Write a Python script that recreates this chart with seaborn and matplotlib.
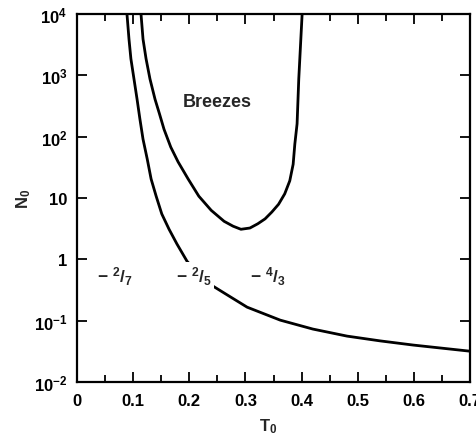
import numpy as np
import pandas as pd
import matplotlib
matplotlib.use("Agg")
import matplotlib.pyplot as plt
import matplotlib.ticker as mticker
import seaborn as sns

# ---- data ----
curve_a_T = [0.089, 0.0926, 0.096, 0.1015, 0.107, 0.112, 0.1176, 0.125, 0.132, 0.141,
             0.151, 0.164, 0.178, 0.196, 0.219, 0.242, 0.273, 0.303, 0.362, 0.420,
             0.481, 0.540, 0.599, 0.697, 0.700]
curve_a_N = [1e4, 3890, 1862, 871, 407, 195, 91, 43.6, 20.4, 10.7,
             5.5, 3.09, 1.78, 0.93, 0.55, 0.367, 0.245, 0.166, 0.102, 0.073,
             0.056, 0.0468, 0.040, 0.032, 0.0318]

curve_b_T = [0.114, 0.1176, 0.123, 0.130, 0.139, 0.147, 0.155, 0.167, 0.180, 0.198,
             0.217, 0.239, 0.262, 0.278, 0.292, 0.308, 0.322, 0.335, 0.347, 0.359,
             0.370, 0.379, 0.385, 0.388, 0.392, 0.395, 0.401]
curve_b_N = [1e4, 3890, 1862, 871, 407, 234, 132, 67.6, 38.9, 20.4,
             10.7, 6.3, 4.17, 3.47, 3.09, 3.24, 3.8, 4.57, 5.9, 7.9,
             11.7, 19.1, 35.5, 75.9, 162, 871, 1e4]

x_ticks = [0, 0.1, 0.2, 0.3, 0.4, 0.5, 0.6, 0.7]
x_tick_labels = ["0", "0.1", "0.2", "0.3", "0.4", "0.5", "0.6", "0.7"]
y_ticks = [1e-2, 1e-1, 1, 10, 1e2, 1e3, 1e4]
y_tick_labels = [r"$10^{-2}$", r"$10^{-1}$", "1", "10", r"$10^{2}$", r"$10^{3}$", r"$10^{4}$"]

region_labels = [r"$-\ {}^{2}/_{7}$", r"$-\ {}^{2}/_{5}$", r"$-\ {}^{4}/_{3}$"]
region_T = [0.068, 0.208, 0.340]
region_N = [0.55, 0.55, 0.55]

# ---- style ----
sns.set_style("ticks")
plt.rcParams["font.family"] = ["Liberation Sans", "DejaVu Sans"]
plt.rcParams["font.weight"] = "bold"
plt.rcParams["mathtext.fontset"] = "custom"
plt.rcParams["mathtext.rm"] = "Liberation Sans:bold"
plt.rcParams["mathtext.it"] = "Liberation Sans:bold"
plt.rcParams["mathtext.bf"] = "Liberation Sans:bold"
plt.rcParams["mathtext.default"] = "rm"

fig = plt.figure(figsize=(4.77, 4.39), dpi=100)
ax = fig.add_axes([77 / 477, 1 - 383 / 439, (470 - 77) / 477, (383 - 15) / 439])

df_a = pd.DataFrame({"T": curve_a_T, "N": curve_a_N})
df_b = pd.DataFrame({"T": curve_b_T, "N": curve_b_N})
sns.lineplot(data=df_a, x="T", y="N", sort=False, color="black", lw=2.0, ax=ax, zorder=2)
sns.lineplot(data=df_b, x="T", y="N", sort=False, color="black", lw=2.0, ax=ax, zorder=2)

ax.set_yscale("log")
ax.set_xlim(0, 0.7)
ax.set_ylim(1e-2, 1e4)

ax.set_xticks(x_ticks)
ax.set_xticklabels(x_tick_labels)
ax.xaxis.set_minor_locator(mticker.MultipleLocator(0.05))
ax.set_yticks(y_ticks)
ax.set_yticklabels(y_tick_labels)
ax.yaxis.set_minor_locator(mticker.NullLocator())

ax.tick_params(axis="both", which="both", direction="in", top=True, right=True,
               width=1.3, labelsize=12, colors="black")
ax.tick_params(axis="both", which="major", length=7)
ax.tick_params(axis="x", which="minor", length=5)
ax.tick_params(axis="y", which="major", pad=7)
ax.tick_params(axis="x", which="major", pad=8)

for s in ax.spines.values():
    s.set_linewidth(1.6)
    s.set_color("black")

ax.set_xlabel(r"$T_0$", fontsize=12)
ax.set_ylabel(r"$N_0$", fontsize=12)
ax.xaxis.set_label_coords((268 - 77) / 393, -(417 - 383) / 368)
ax.yaxis.set_label_coords(-(44) / 393, 0.5)

ax.text(0.25, 380, "Breezes", fontsize=13, fontweight="bold", ha="center", va="center")
for lab, t, n in zip(region_labels, region_T, region_N):
    ax.text(t, n, lab, fontsize=12.5, ha="center", va="center", zorder=3,
            bbox=dict(facecolor="white", edgecolor="none", pad=1.5))

fig.savefig("out.png", dpi=100)
